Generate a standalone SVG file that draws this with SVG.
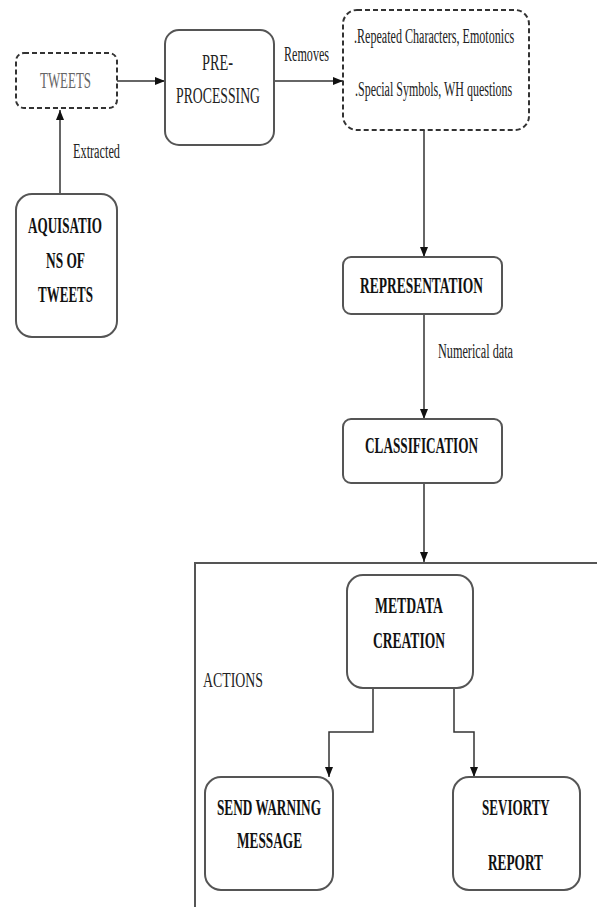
<svg xmlns="http://www.w3.org/2000/svg" width="597" height="907" viewBox="0 0 597 907">
<style>
.box{fill:#fff;stroke:#555;stroke-width:2}
.dash{fill:#fff;stroke:#333;stroke-width:2;stroke-dasharray:5 3}
.t{font-family:"Liberation Serif","Times New Roman",serif;font-size:24px;fill:#222}
.b{font-weight:bold;fill:#111}
.g{fill:#666}
.s{font-size:20px}
.c{fill:none;stroke:#333;stroke-width:1.5}
</style>
<defs>
<marker id="ah" markerUnits="userSpaceOnUse" markerWidth="10" markerHeight="10" viewBox="0 0 10 10" refX="10" refY="5" orient="auto">
<path d="M0,1 L10,5 L0,9 z" fill="#111"/>
</marker>
</defs>
<g id="frame">
<path d="M597,563 H195 V907" fill="none" stroke="#555" stroke-width="2"/>
<text class="t s" x="203" y="687" textLength="60" lengthAdjust="spacingAndGlyphs">ACTIONS</text>
</g>
<g id="connectors">
<line class="c" x1="60" y1="194" x2="60" y2="110" marker-end="url(#ah)"/>
<line class="c" x1="117" y1="81" x2="165" y2="81" marker-end="url(#ah)"/>
<line class="c" x1="274" y1="81" x2="343" y2="81" marker-end="url(#ah)"/>
<line class="c" x1="424" y1="130" x2="424" y2="257" marker-end="url(#ah)"/>
<line class="c" x1="424" y1="314" x2="424" y2="419" marker-end="url(#ah)"/>
<line class="c" x1="424" y1="483" x2="424" y2="562" marker-end="url(#ah)"/>
<polyline class="c" points="373,688 373,732 329,732 329,777" marker-end="url(#ah)"/>
<polyline class="c" points="454,688 454,732 474,732 474,777" marker-end="url(#ah)"/>
<text class="t s" x="73" y="158" textLength="47" lengthAdjust="spacingAndGlyphs">Extracted</text>
<text class="t s" x="284" y="61" textLength="45" lengthAdjust="spacingAndGlyphs">Removes</text>
<text class="t s" x="438" y="358" textLength="75" lengthAdjust="spacingAndGlyphs">Numerical data</text>
</g>
<g id="tweets">
<rect class="dash" x="16" y="53" width="101" height="55" rx="8"/>
<text class="t g" x="40" y="88" textLength="51" lengthAdjust="spacingAndGlyphs">TWEETS</text>
</g>
<g id="preprocessing">
<rect class="box" x="165" y="30" width="109" height="115" rx="14"/>
<text class="t" x="202" y="70" textLength="31" lengthAdjust="spacingAndGlyphs">PRE-</text>
<text class="t" x="176" y="103" textLength="84" lengthAdjust="spacingAndGlyphs">PROCESSING</text>
</g>
<g id="removed">
<rect class="dash" x="343" y="10" width="186" height="120" rx="14"/>
<text class="t s" transform="translate(354,43) scale(0.6,1)" x="0" y="0" textLength="267" lengthAdjust="spacingAndGlyphs">.Repeated Characters, Emotonics</text>
<text class="t s" transform="translate(355,96) scale(0.6,1)" x="0" y="0" textLength="262" lengthAdjust="spacingAndGlyphs">.Special Symbols, WH questions</text>
</g>
<g id="aquisitions">
<rect class="box" x="16" y="194" width="101" height="143" rx="16"/>
<text class="t b" x="28" y="233" textLength="74" lengthAdjust="spacingAndGlyphs">AQUISATIO</text>
<text class="t b" x="46" y="268" textLength="39" lengthAdjust="spacingAndGlyphs">NS OF</text>
<text class="t b" x="38" y="302" textLength="55" lengthAdjust="spacingAndGlyphs">TWEETS</text>
</g>
<g id="representation">
<rect class="box" x="343" y="257" width="159" height="57" rx="8"/>
<text class="t b" x="360" y="293" textLength="123" lengthAdjust="spacingAndGlyphs">REPRESENTATION</text>
</g>
<g id="classification">
<rect class="box" x="343" y="419" width="159" height="64" rx="8"/>
<text class="t b" x="365" y="453" textLength="113" lengthAdjust="spacingAndGlyphs">CLASSIFICATION</text>
</g>
<g id="metadata">
<rect class="box" x="347" y="575" width="126" height="113" rx="16"/>
<text class="t b" x="375" y="613" textLength="68" lengthAdjust="spacingAndGlyphs">METDATA</text>
<text class="t b" x="373" y="648" textLength="72" lengthAdjust="spacingAndGlyphs">CREATION</text>
</g>
<g id="warning">
<rect class="box" x="205" y="777" width="128" height="113" rx="16"/>
<text class="t b" x="217" y="815" textLength="104" lengthAdjust="spacingAndGlyphs">SEND WARNING</text>
<text class="t b" x="237" y="848" textLength="65" lengthAdjust="spacingAndGlyphs">MESSAGE</text>
</g>
<g id="severity">
<rect class="box" x="453" y="777" width="127" height="113" rx="16"/>
<text class="t b" transform="translate(482,815) scale(0.6,1)" x="0" y="0" textLength="113" lengthAdjust="spacingAndGlyphs">SEVIORTY</text>
<text class="t b" x="488" y="870" textLength="55" lengthAdjust="spacingAndGlyphs">REPORT</text>
</g>
</svg>
